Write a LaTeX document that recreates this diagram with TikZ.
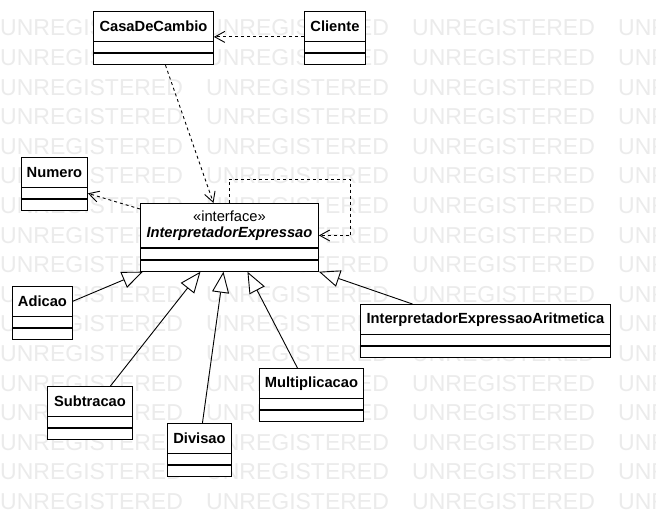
\documentclass[tikz,border=0pt]{standalone}
\usepackage{fontspec}
\setmainfont{Liberation Sans}
\usetikzlibrary{positioning,arrows.meta}

\begin{document}
\begin{tikzpicture}[
    x=1pt, y=-1pt,
    classname/.style={rectangle, draw=black, line width=0.9pt, fill=white, anchor=north west, inner sep=2pt, minimum height=29.5pt, font=\fontsize{14.7}{16.5}\selectfont\bfseries},
    compart/.style={rectangle, draw=black, line width=0.9pt, fill=white, minimum height=11pt, inner sep=0pt},
    dep/.style={-{Straight Barb[length=10pt,width=11pt]}, line width=0.9pt, dash pattern=on 3pt off 3pt},
    gen/.style={-{Triangle[length=21pt,width=17pt,fill=white]}, line width=0.9pt},
    wmark/.style={anchor=west, inner sep=0pt, text=black!8, font=\fontsize{23}{23}\selectfont}
  ]
    \useasboundingbox (0,0) rectangle (656,520);
    \fill[white] (0,0) rectangle (656,520);

    % watermark
    \begin{scope}
      \clip (0,0) rectangle (656,520);
      \foreach \r in {0,...,16}
        \foreach \c in {0,...,3}
          \node[wmark] (wm-\r-\c) at (206*\c, 28+29.6*\r) {UNREGISTERED};
    \end{scope}

    % classes
    \foreach \nm/\x/\y/\w/\lbl in {casa/93/11/120/CasaDeCambio, cliente/304/11/61/Cliente,
        numero/21/157/66/Numero, adicao/12/286/60/Adicao, subtracao/47/386/85/Subtracao,
        divisao/167/423/64/Divisao, multiplicacao/259/368/104/Multiplicacao,
        aritmetica/360/304/250/InterpretadorExpressaoAritmetica} {
      \node[classname, minimum width=\w pt] (\nm) at (\x,\y) {\lbl};
      \node[compart, minimum width=\w pt, below=0pt of \nm] (\nm-a) {};
      \node[compart, minimum width=\w pt, below=0pt of \nm-a] (\nm-o) {};
    }

    \node[classname, minimum width=178pt, minimum height=44pt, align=center] (interp) at (140,203)
      {{\mdseries «interface»}\\\textit{InterpretadorExpressao}};
    \node[compart, minimum width=178pt, below=0pt of interp] (interp-a) {};
    \node[compart, minimum width=178pt, below=0pt of interp-a] (interp-o) {};

    % dependencies
    \draw[dep] ([yshift=4.5pt]cliente.south west) -- ([yshift=4.5pt]casa.south east);
    \draw[dep] ([xshift=12pt]casa-o.south) -- ([xshift=-16pt]interp.north);
    \draw[dep] ([yshift=-6pt]interp.north west) -- (numero-a.east);
    \draw[dep] (interp.north) -- ++(0,-24) -| ([xshift=32pt,yshift=-10pt]interp.east) -- ([yshift=-10pt]interp.east);

    % realizations
    \draw[gen] (adicao.east) -- ([xshift=3pt]interp-o.south west);
    \draw[gen] ([xshift=20.5pt]subtracao.north) -- ([xshift=-29pt]interp-o.south);
    \draw[gen] ([xshift=3pt]divisao.north) -- ([xshift=-6pt]interp-o.south);
    \draw[gen] ([xshift=-14pt]multiplicacao.north) -- ([xshift=18pt]interp-o.south);
    \draw[gen] ([xshift=-73pt]aritmetica.north) -- (interp-o.south east);
  \end{tikzpicture}
\end{document}
